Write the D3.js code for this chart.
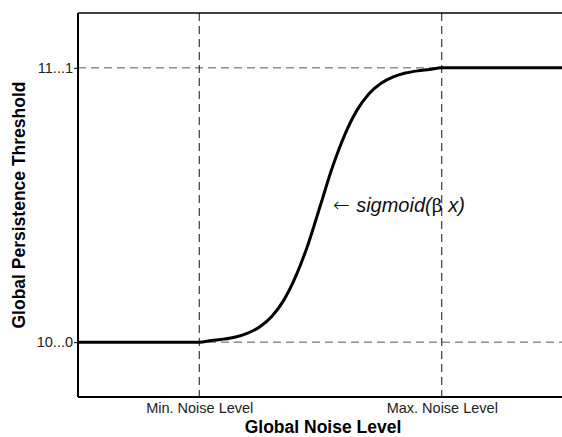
<!DOCTYPE html>
<html>
<head>
<meta charset="utf-8">
<script src="https://cdn.jsdelivr.net/npm/d3@7"></script>
<style>
  body { margin: 0; background: #fff; }
  text { font-family: "Liberation Sans", Arial, sans-serif; }
</style>
</head>
<body>
<div id="chart"></div>
<script>
// noise level: 0 = min, 1 = max ; threshold: 0 = "10...0", 1 = "11...1"
var noiseX = [-0.5, 0, 0.05, 0.1, 0.15, 0.2, 0.25, 0.3, 0.35, 0.4, 0.45, 0.5,
              0.55, 0.6, 0.65, 0.7, 0.75, 0.8, 0.85, 0.9, 0.95, 1.0, 1.5];
var thresholdY = [0, 0, 0.006, 0.011, 0.019, 0.033, 0.056, 0.094, 0.155, 0.244, 0.36, 0.5,
                  0.64, 0.756, 0.845, 0.906, 0.944, 0.967, 0.981, 0.989, 0.994, 1.0, 1.0];
var xTicks = [0, 1];
var xTickLabels = ["Min. Noise Level", "Max. Noise Level"];
var yTicks = [0, 1];
var yTickLabels = ["10...0", "11...1"];

var W = 562, H = 437;
var margin = {top: 13, right: 0, bottom: 40, left: 78};

var svg = d3.select("#chart").append("svg")
    .attr("width", W)
    .attr("height", H);

var x = d3.scaleLinear()
    .domain([-0.5, 1.5])
    .range([margin.left, W - margin.right + 1]);

var y = d3.scaleLinear()
    .domain([-0.2, 1.2])
    .range([H - margin.bottom, margin.top]);

var data = noiseX.map(function(d, i) { return {x: d, y: thresholdY[i]}; });

// dashed reference lines
svg.selectAll("hline")
  .data(yTicks)
  .enter()
  .append("line")
    .attr("x1", x(-0.5))
    .attr("x2", W)
    .attr("y1", function(d) { return y(d); })
    .attr("y2", function(d) { return y(d); })
    .attr("stroke", "#555")
    .attr("stroke-width", 1)
    .attr("stroke-dasharray", "8,5");

svg.selectAll("vline")
  .data(xTicks)
  .enter()
  .append("line")
    .attr("x1", function(d) { return x(d); })
    .attr("x2", function(d) { return x(d); })
    .attr("y1", y(1.2))
    .attr("y2", y(-0.2))
    .attr("stroke", "#111")
    .attr("stroke-width", 1)
    .attr("stroke-dasharray", "8,5");

// frame
svg.append("line")
  .attr("x1", margin.left).attr("x2", W)
  .attr("y1", margin.top).attr("y2", margin.top)
  .attr("stroke", "#000").attr("stroke-width", 1.5);

var yAxis = svg.append("g")
  .attr("transform", "translate(" + margin.left + ",0)")
  .call(d3.axisLeft(y).tickValues(yTicks).tickSize(4).tickPadding(1)
    .tickFormat(function(d, i) { return yTickLabels[i]; }));

var xAxis = svg.append("g")
  .attr("transform", "translate(0," + (H - margin.bottom) + ")")
  .call(d3.axisBottom(x).tickValues(xTicks).tickSize(0).tickPadding(6)
    .tickFormat(function(d, i) { return xTickLabels[i]; }));

[xAxis, yAxis].forEach(function(a) {
  a.select(".domain").attr("stroke", "#000").attr("stroke-width", 2);
  a.selectAll("text").attr("font-size", 14.5).attr("fill", "#222")
    .attr("font-family", "Liberation Sans, Arial, sans-serif");
});
xAxis.select(".domain").attr("d", "M" + margin.left + ",0H" + W);
yAxis.select(".domain").attr("d", "M0," + margin.top + "V" + (H - margin.bottom));

// sigmoid curve
svg.append("path")
  .datum(data)
  .attr("fill", "none")
  .attr("stroke", "#000")
  .attr("stroke-width", 3)
  .attr("d", d3.line()
    .curve(d3.curveMonotoneX)
    .x(function(d) { return x(d.x); })
    .y(function(d) { return y(d.y); }));

// annotation
var ann = svg.append("text")
  .attr("x", 333)
  .attr("y", 212)
  .attr("font-size", 20)
  .attr("fill", "#111");
ann.append("tspan")
  .attr("font-family", "DejaVu Sans")
  .attr("font-weight", 200)
  .text("\u2190 ");
ann.append("tspan")
  .attr("font-style", "italic")
  .text("sigmoid(");
ann.append("tspan")
  .attr("font-family", "DejaVu Serif")
  .attr("font-size", 19)
  .text("\u03b2");
ann.append("tspan")
  .attr("font-style", "italic")
  .text(" x)");

// axis titles
svg.append("text")
  .attr("x", 323)
  .attr("y", 433)
  .attr("text-anchor", "middle")
  .attr("font-size", 17.5)
  .attr("font-weight", "bold")
  .text("Global Noise Level");

svg.append("text")
  .attr("transform", "translate(25,205)rotate(-90)")
  .attr("text-anchor", "middle")
  .attr("font-size", 17.5)
  .attr("font-weight", "bold")
  .text("Global Persistence Threshold");
</script>
</body>
</html>
